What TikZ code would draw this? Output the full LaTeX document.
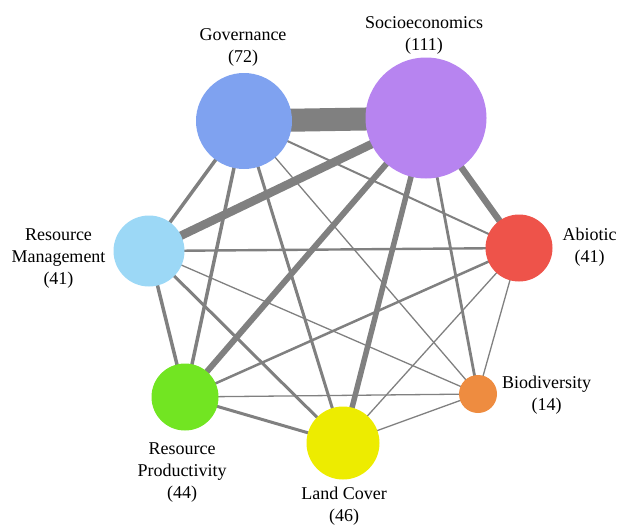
\documentclass[tikz,border=0pt]{standalone}
\usepackage{fontspec}
\setmainfont{Liberation Serif}
\usetikzlibrary{backgrounds}
\definecolor{govblue}{RGB}{127,162,240}
\definecolor{socpurple}{RGB}{183,132,240}
\definecolor{rmblue}{RGB}{156,216,246}
\definecolor{abired}{RGB}{238,83,74}
\definecolor{bioorange}{RGB}{238,140,64}
\definecolor{lcyellow}{RGB}{237,236,0}
\definecolor{rpgreen}{RGB}{114,229,34}
\definecolor{linkgray}{RGB}{128,128,128}
\begin{document}
\begin{tikzpicture}[x=1pt, y=-1pt,
		topic/.style={circle, inner sep=0pt},
		lab/.style={align=center, inner sep=0pt, font=\fontsize{18}{22}\selectfont},
		link/.style={draw=linkgray, line width=#1}]
				\useasboundingbox (0,0) rectangle (618,525);
				\node[topic, fill=govblue, minimum size=96pt] (Gov)at(244, 121) {};
				\node[topic, fill=socpurple, minimum size=121pt] (Soc)at(426, 118) {};
				\node[topic, fill=rmblue, minimum size=71pt] (RM)at(149, 251) {};
				\node[topic, fill=abired, minimum size=67pt] (Abi)at(519, 248) {};
				\node[topic, fill=bioorange, minimum size=38pt] (Bio)at(478, 394) {};
				\node[topic, fill=lcyellow, minimum size=73pt] (LC)at(343, 443) {};
				\node[topic, fill=rpgreen, minimum size=67pt] (RP)at(185, 397) {};
				\node[lab] (GovL)at(243, 47.6) {Governance\\(72)};
				\node[lab] (SocL)at(424, 35.6) {Socioeconomics\\(111)};
				\node[lab] (RML)at(58.5, 258.6) {Resource\\Management\\(41)};
				\node[lab] (AbiL)at(589.5, 247.6) {Abiotic\\(41)};
				\node[lab] (BioL)at(546.5, 395.6) {Biodiversity\\(14)};
				\node[lab] (LCL)at(344, 505.8) {Land Cover\\(46)};
				\node[lab] (RPL)at(182, 472.6) {Resource\\Productivity\\(44)};
				\begin{pgfonlayer}{background}
					\draw[link=23pt] (Gov.center) -- (Soc.center);
					\draw[link=8.5pt] (Soc.center) -- (RM.center);
					\draw[link=6pt] (Soc.center) -- (RP.center);
					\draw[link=5.5pt] (Soc.center) -- (LC.center);
					\draw[link=6.5pt] (Soc.center) -- (Abi.center);
					\draw[link=2.8pt] (Soc.center) -- (Bio.center);
					\draw[link=3.5pt] (Gov.center) -- (RM.center);
					\draw[link=3.5pt] (Gov.center) -- (RP.center);
					\draw[link=3pt] (Gov.center) -- (LC.center);
					\draw[link=2pt] (Gov.center) -- (Abi.center);
					\draw[link=1.3pt] (Gov.center) -- (Bio.center);
					\draw[link=2.4pt] (RM.center) -- (Abi.center);
					\draw[link=3.5pt] (RM.center) -- (RP.center);
					\draw[link=3pt] (RM.center) -- (LC.center);
					\draw[link=1.3pt] (RM.center) -- (Bio.center);
					\draw[link=2.5pt] (RP.center) -- (Abi.center);
					\draw[link=3pt] (RP.center) -- (LC.center);
					\draw[link=1.3pt] (RP.center) -- (Bio.center);
					\draw[link=1.3pt] (LC.center) -- (Abi.center);
					\draw[link=1.3pt] (LC.center) -- (Bio.center);
					\draw[link=1.3pt] (Abi.center) -- (Bio.center);
				\end{pgfonlayer}
			\end{tikzpicture}
\end{document}
